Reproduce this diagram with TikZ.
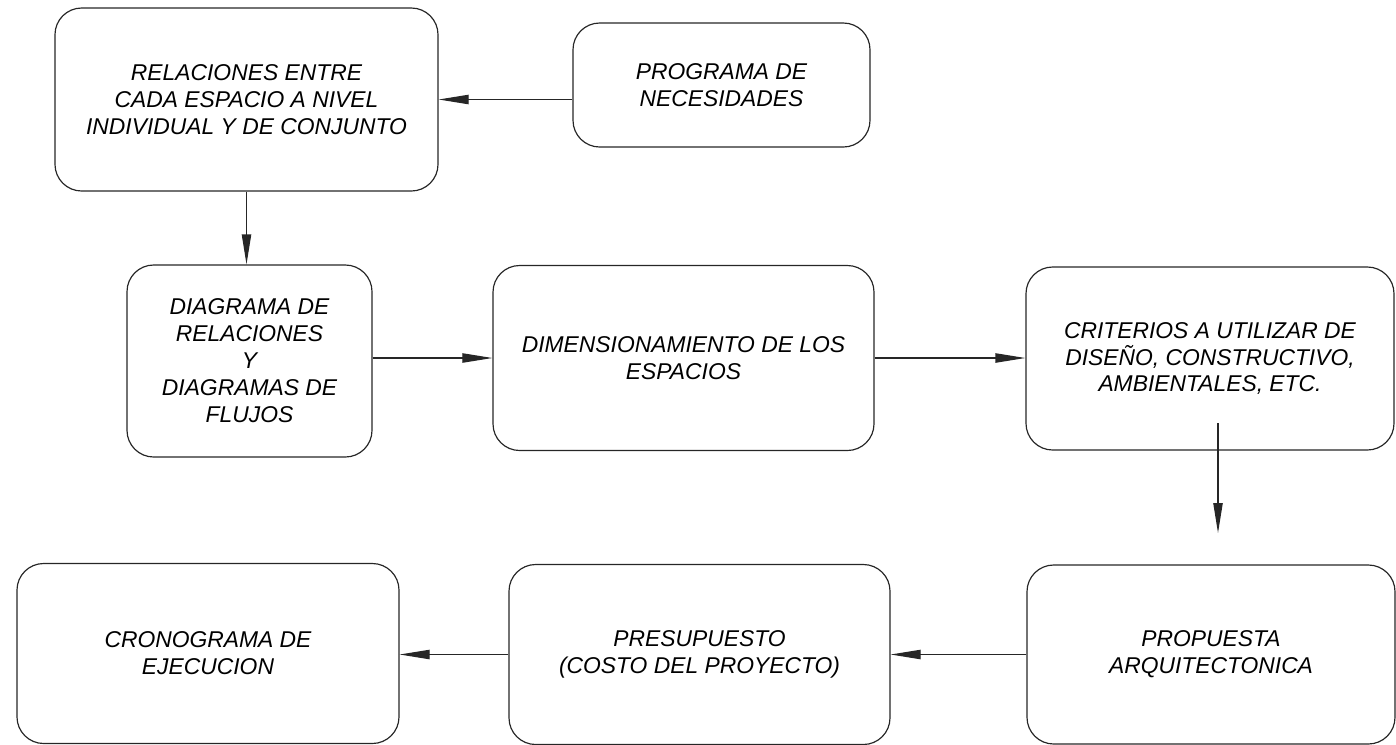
\documentclass[tikz,border=0pt]{standalone}
\usepackage{fontspec}
\setmainfont{Liberation Sans}
\usetikzlibrary{arrows.meta,positioning}

\begin{document}
\begin{tikzpicture}[x=0.03cm, y=-0.03cm,
	caja/.style={draw=black!85, line width=1pt, rounded corners=0.8cm, align=center, inner sep=0pt, font=\itshape\fontsize{19.5}{23}\selectfont},
	flecha/.style={draw=black!85, line width=1pt, -{Triangle[length=0.9cm,width=0.28cm]}}]
	\useasboundingbox (0,0) rectangle (1396,744);
	% Top row
	\node[caja, minimum width=11.49cm, minimum height=5.49cm] (rel) at (246.5,99.5) {RELACIONES ENTRE\\CADA ESPACIO A NIVEL\\INDIVIDUAL Y DE CONJUNTO};
	\node[caja, minimum width=8.91cm, minimum height=3.72cm] (prog) at (721.5,85) {PROGRAMA DE\\NECESIDADES};
	% Middle row
	\node[caja, minimum width=7.35cm, minimum height=5.76cm] (diag) at (249.5,361) {DIAGRAMA DE\\RELACIONES\\Y\\DIAGRAMAS DE\\FLUJOS};
	\node[caja, minimum width=11.43cm, minimum height=5.55cm] (dim) at (683.5,358) {DIMENSIONAMIENTO DE LOS\\ESPACIOS};
	\node[caja, minimum width=11.04cm, minimum height=5.49cm] (crit) at (1210,358.5) {CRITERIOS A UTILIZAR DE\\DISEÑO, CONSTRUCTIVO,\\AMBIENTALES, ETC.};
	% Bottom row
	\node[caja, minimum width=11.04cm, minimum height=5.37cm] (prop) at (1211,654.5) {PROPUESTA\\ARQUITECTONICA};
	\node[caja, minimum width=11.43cm, minimum height=5.4cm] (pres) at (699.5,654.5) {PRESUPUESTO\\(COSTO DEL PROYECTO)};
	\node[caja, minimum width=11.46cm, minimum height=5.4cm] (cron) at (208,653.5) {CRONOGRAMA DE\\EJECUCION};
	% Connections
	\coordinate (c1) at (1218,423);
	\coordinate (c2) at (1218,533);
	\draw[flecha] (prog.west |- rel.east) -- (rel.east);
	\draw[flecha] (rel.south) -- (rel.south |- diag.north);
	\draw[flecha] (diag.east |- dim.west) -- (dim.west);
	\draw[flecha] (dim.east) -- (crit.west |- dim.east);
	\draw[flecha] (c1) -- (c2);
	\draw[flecha] (prop.west) -- (pres.east |- prop.west);
	\draw[flecha] (pres.west) -- (cron.east |- pres.west);
\end{tikzpicture}
\end{document}
